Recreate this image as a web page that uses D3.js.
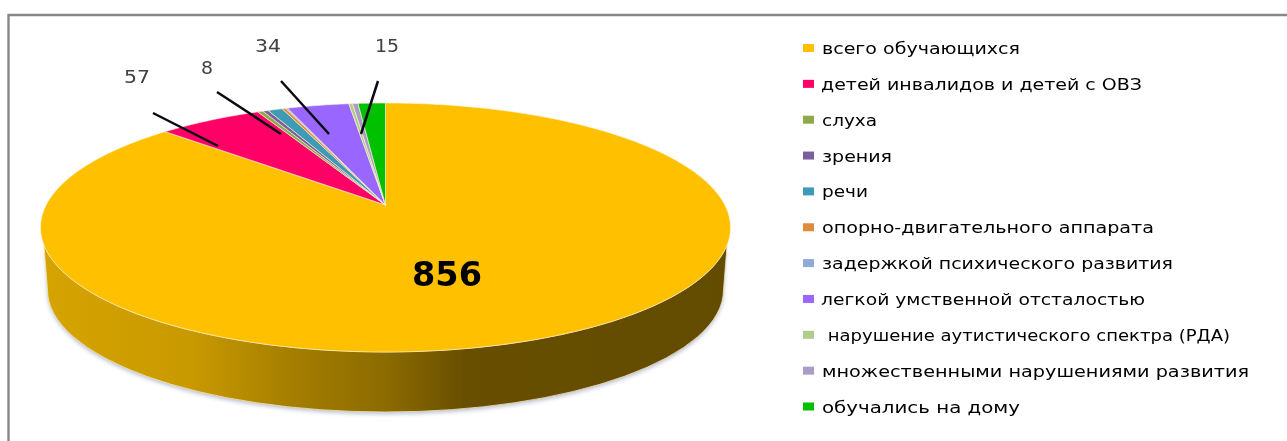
<!DOCTYPE html>
<html><head><meta charset="utf-8">
<script src="https://cdn.jsdelivr.net/npm/d3@7"></script>
<style>html,body{margin:0;padding:0;background:#fff}svg{display:block}</style></head>
<body><svg id="c" width="1287" height="441"></svg>
<script>
const categories = ["всего обучающихся","детей инвалидов и детей с ОВЗ","слуха","зрения","речи","опорно-двигательного аппарата","задержкой психического развития","легкой умственной отсталостью"," нарушение аутистического спектра (РДА)","множественными нарушениями развития","обучались на дому"];
const values = [856,57,3,3,8,2,1,34,2,3,15];
const colors = ["#FFC000","#FF0066","#8DAA4A","#7A5F9F","#3F9BB5","#E08A3C","#8FAAD6","#9966FF","#B3CB8B","#AB9CC5","#00C000"];
const pointLabels = [[1,"57"],[4,"8"],[7,"34"],[10,"15"]];

(function(){
const svg = d3.select("#c");
const W=1287,H=441;
const defs = svg.append("defs");
const grad = defs.append("linearGradient").attr("id","wall").attr("gradientUnits","userSpaceOnUse")
  .attr("x1",41).attr("x2",730).attr("y1",0).attr("y2",0);
[[0,"#D6A400"],[0.22,"#C89900"],[0.36,"#A67F00"],[0.5,"#8C6B00"],[0.62,"#674E00"],[1,"#634B00"]]
 .forEach(d=>grad.append("stop").attr("offset",d[0]).attr("stop-color",d[1]));
defs.append("filter").attr("id","sh").append("feGaussianBlur").attr("stdDeviation",2);
defs.append("filter").attr("id","soft").attr("x","-5%").attr("y","-20%").attr("width","110%").attr("height","140%")
  .append("feGaussianBlur").attr("stdDeviation",0.4);

// frame
svg.append("path").attr("d",`M${W},15H8.5V${H}`).attr("fill","none").attr("stroke","#888").attr("stroke-width",2.4);

// tilted disc geometry: perspective map of the unit circle
const cx=385.5, rimTop=103, apex=205, rimBot=352, rx=345;
const C=(2*apex-rimTop-rimBot)/(rimBot-rimTop);
const a=(rimBot*(1+C)-rimTop*(1-C))/2;
const A=rx*Math.sqrt(1-C*C);
const proj=th=>{const u=Math.sin(th),v=-Math.cos(th),w=1+C*v;return [cx+A*u/w,(a*v+apex)/w];};

const pie=d3.pie().sort(null).value(d=>d)(values);
const line=d3.line();
const ry=(rimBot-rimTop)/2, cy=(rimBot+rimTop)/2;
const wallTopY=245, bcy=290, brx=338, bry=122;
const tx=rx*Math.sqrt(1-((wallTopY-cy)/ry)**2);
const wallD=`M${cx-tx},${wallTopY}A${rx},${ry} 0 0 0 ${cx+tx},${wallTopY}L${cx+brx},${bcy}A${brx},${bry} 0 0 1 ${cx-brx},${bcy}Z`;
svg.append("path").attr("d",`M${cx-brx-2},${bcy-40}L${cx-brx},${bcy}A${brx},${bry} 0 0 0 ${cx+brx},${bcy}L${cx+brx+2},${bcy-40}Z`)
   .attr("fill","#7f86a8").attr("opacity",.55).attr("transform","translate(0,2)").attr("filter","url(#sh)");
svg.append("path").attr("d",wallD).attr("fill","url(#wall)").attr("stroke","#f3e6b8").attr("stroke-width",.8);

// top slices
const g=svg.append("g");
g.selectAll("path").data(pie).join("path")
 .attr("d",d=>{const n=Math.max(3,Math.ceil((d.endAngle-d.startAngle)/0.01));
   const pts=d3.range(n+1).map(i=>proj(d.startAngle+(d.endAngle-d.startAngle)*i/n));
   return line([[cx,apex],...pts])+"Z";})
 .attr("fill",(d,i)=>colors[i]).attr("stroke","#fff6d8").attr("stroke-width",.6).attr("stroke-linejoin","round");

// data labels and leader lines
const leaders=[[153,113,218,146],[217,92,281,134],[281,81,329,134],[378,81,361,134]];
const labelPos=[[137,83],[207,74],[268,52],[387,52]];
const labelW=[26,12,26,24];
svg.append("g").selectAll("line").data(leaders).join("line")
 .attr("x1",d=>d[0]).attr("y1",d=>d[1]).attr("x2",d=>d[2]).attr("y2",d=>d[3])
 .attr("stroke","#0a0a14").attr("stroke-width",2.5);
const dl=svg.append("g").attr("font-family","'DejaVu Sans'").attr("font-size",18).attr("fill","#404040").attr("text-anchor","middle").attr("filter","url(#soft)");
dl.selectAll("text").data(pointLabels).join("text")
 .attr("x",(d,i)=>labelPos[i][0]).attr("y",(d,i)=>labelPos[i][1]).text(d=>d[1])
 .attr("textLength",(d,i)=>labelW[i]).attr("lengthAdjust","spacingAndGlyphs");
svg.append("text").attr("x",447).attr("y",286).attr("text-anchor","middle").attr("font-family","'DejaVu Sans'")
 .attr("font-weight","bold").attr("font-size",34).attr("fill","#000").attr("filter","url(#soft)").text(values[0])
 .attr("textLength",70).attr("lengthAdjust","spacingAndGlyphs");

// legend
const yL=d3.scalePoint().domain(d3.range(categories.length)).range([48.5,407]);
const lg=svg.append("g").selectAll("g").data(categories).join("g");
lg.append("rect").attr("x",803).attr("y",(d,i)=>yL(i)-4.5).attr("width",11).attr("height",8).attr("fill",(d,i)=>colors[i]);
const textW=[198,321,55,70,46,332,351,324,408,427,198];
const textX=[822,821,822,822,822,822,822,821,822,822,822];
lg.append("text").attr("x",(d,i)=>textX[i]).attr("y",(d,i)=>yL(i)+5.5).attr("font-family","'DejaVu Sans'").attr("font-size",15).attr("fill","#000")
 .attr("filter","url(#soft)").style("white-space","pre").text(d=>d)
 .attr("textLength",(d,i)=>textW[i]).attr("lengthAdjust","spacingAndGlyphs");
})();
</script></body></html>
